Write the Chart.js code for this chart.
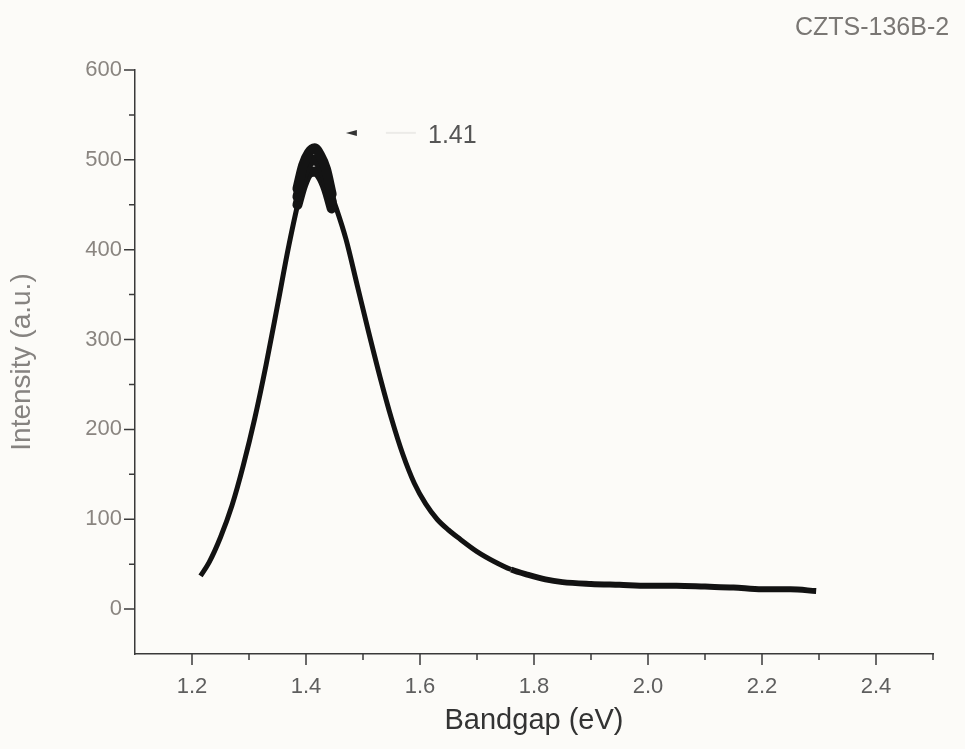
<!DOCTYPE html>
<html>
<head>
<meta charset="utf-8">
<script src="https://cdn.jsdelivr.net/npm/chart.js@4/dist/chart.umd.min.js"></script>
<style>
  html, body { margin: 0; padding: 0; background: #fcfbf8; }
  #wrap { width: 965px; height: 749px; position: relative; }
</style>
</head>
<body>
<div id="wrap"><canvas id="pl"></canvas></div>
<script>
  /* PL spectrum: bandgap (eV) vs intensity (a.u.) */
  var bandgap = [
    1.215, 1.23, 1.25, 1.27, 1.29, 1.31, 1.33, 1.35, 1.37, 1.39,
    1.41, 1.43, 1.45, 1.47, 1.49, 1.51, 1.53, 1.55, 1.57, 1.59,
    1.61, 1.63, 1.65, 1.67, 1.70, 1.73, 1.76, 1.79, 1.82, 1.85,
    1.90, 1.95, 2.00, 2.05, 2.10, 2.15, 2.20, 2.25, 2.295
  ];
  var intensity = [
    37, 52, 80, 115, 160, 212, 272, 338, 405, 462,
    500, 488, 452, 412, 360, 308, 258, 212, 172, 140,
    117, 100, 88, 78, 64, 53, 44, 38, 33, 30,
    28, 27, 26, 26, 25, 24, 22, 22, 20
  ];
  /* noisy band around the maximum: upper, middle and lower traces */
  var peakX   = [1.385, 1.395, 1.405, 1.415, 1.425, 1.435, 1.445];
  var peakTop = [468, 494, 508, 513, 505, 490, 462];
  var peakMid = [459, 483, 496, 500, 494, 479, 454];
  var peakLow = [450, 472, 485, 487, 482, 468, 446];

  var xTicks = [1.2, 1.4, 1.6, 1.8, 2.0, 2.2, 2.4];
  var xMinor = [1.3, 1.5, 1.7, 1.9, 2.1, 2.3, 2.5];
  var yTicks = [0, 100, 200, 300, 400, 500, 600];
  var yMinor = [50, 150, 250, 350, 450, 550];
  var peakLabel = '1.41';
  var sampleName = 'CZTS-136B-2';

  function xy(xs, ys) { return xs.map(function (x, i) { return { x: x, y: ys[i] }; }); }

  /* hand-drawn tick marks, long for majors and short for minors */
  var tickMarks = {
    id: 'tickMarks',
    afterDraw: function (chart) {
      var c = chart.ctx, xs = chart.scales.x, ys = chart.scales.y;
      var a = chart.chartArea;
      c.save();
      c.strokeStyle = '#3a3a3a';
      c.lineWidth = 1.5;
      c.beginPath();
      xTicks.forEach(function (v) { var p = xs.getPixelForValue(v); c.moveTo(p, a.bottom); c.lineTo(p, a.bottom + 11); });
      xMinor.forEach(function (v) { var p = xs.getPixelForValue(v); c.moveTo(p, a.bottom); c.lineTo(p, a.bottom + 6); });
      yTicks.forEach(function (v) { var p = ys.getPixelForValue(v); c.moveTo(a.left, p); c.lineTo(a.left - 11, p); });
      yMinor.forEach(function (v) { var p = ys.getPixelForValue(v); c.moveTo(a.left, p); c.lineTo(a.left - 6, p); });
      c.stroke();
      c.restore();
    }
  };

  /* peak marker arrow + label, and the sample name top right */
  var notes = {
    id: 'notes',
    afterDraw: function (chart) {
      var c = chart.ctx, xs = chart.scales.x, ys = chart.scales.y;
      var ax = xs.getPixelForValue(1.47), ay = ys.getPixelForValue(530);
      c.save();
      c.fillStyle = '#333';
      c.beginPath();
      c.moveTo(ax, ay);
      c.lineTo(ax + 11, ay - 3);
      c.lineTo(ax + 11, ay + 3);
      c.closePath();
      c.fill();
      c.strokeStyle = 'rgba(120,120,120,0.12)';
      c.lineWidth = 2;
      c.beginPath();
      c.moveTo(ax + 40, ay); c.lineTo(ax + 70, ay);
      c.stroke();
      c.font = '25px "Liberation Sans", Arial, sans-serif';
      c.fillStyle = '#555';
      c.textBaseline = 'middle';
      c.textAlign = 'left';
      c.fillText(peakLabel, xs.getPixelForValue(1.614), ay + 3);
      c.fillStyle = '#7a7774';
      c.textAlign = 'center';
      c.fillText(sampleName, 872, 28);
      c.restore();
    }
  };

  var font = '"Liberation Sans", Arial, sans-serif';

  function bandLine(ys) {
    return {
      data: xy(peakX, ys),
      borderColor: '#141414',
      borderWidth: 10,
      borderCapStyle: 'round',
      borderJoinStyle: 'round',
      pointRadius: 0,
      cubicInterpolationMode: 'monotone',
      fill: false
    };
  }

  new Chart(document.getElementById('pl'), {
    type: 'line',
    data: {
      datasets: [
        bandLine(peakTop),
        bandLine(peakMid),
        bandLine(peakLow),
        {
          data: xy(bandgap, intensity),
          borderColor: '#121212',
          borderWidth: 5,
          pointRadius: 0,
          cubicInterpolationMode: 'monotone',
          segment: {
            borderWidth: function (ctx) { return ctx.p0.parsed.x >= 1.75 ? 6 : 5; }
          }
        }
      ]
    },
    options: {
      responsive: true,
      maintainAspectRatio: false,
      animation: false,
      layout: { padding: { left: 0, top: 70, right: 32, bottom: 0 } },
      plugins: { legend: { display: false }, tooltip: { enabled: false } },
      scales: {
        x: {
          type: 'linear',
          min: 1.1,
          max: 2.5,
          afterBuildTicks: function (s) { s.ticks = xTicks.map(function (v) { return { value: v }; }); },
          afterFit: function (s) { s.height = 95; },
          grid: { display: true, drawOnChartArea: false, drawTicks: false },
          border: { display: true, color: '#3a3a3a', width: 1.5 },
          ticks: {
            padding: 20,
            color: '#5e5e5e',
            font: { family: font, size: 22 },
            callback: function (v) { return v.toFixed(1); }
          },
          title: {
            display: true,
            text: 'Bandgap (eV)',
            color: '#333',
            font: { family: font, size: 29 },
            padding: { top: 0, bottom: 11 }
          }
        },
        y: {
          type: 'linear',
          min: -50,
          max: 600,
          afterBuildTicks: function (s) { s.ticks = yTicks.map(function (v) { return { value: v }; }); },
          afterFit: function (s) { s.width = 135; },
          grid: { display: true, drawOnChartArea: false, drawTicks: false },
          border: { display: true, color: '#3a3a3a', width: 1.5 },
          ticks: {
            padding: 13,
            color: '#8a8580',
            font: { family: font, size: 22 }
          },
          title: {
            display: true,
            text: 'Intensity (a.u.)',
            color: '#868380',
            font: { family: font, size: 28 },
            padding: { top: 5, bottom: 0 }
          }
        }
      }
    },
    plugins: [tickMarks, notes]
  });
</script>
</body>
</html>
